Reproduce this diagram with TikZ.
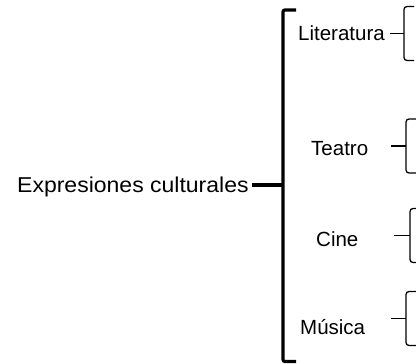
\documentclass[tikz,border=0pt]{standalone}
\usepackage{fontspec}
\setmainfont{Liberation Sans}
\newfontfamily\widefnt[FakeStretch=1.07]{Liberation Sans}
\begin{document}
\begin{tikzpicture}[x=1pt,y=-1pt,
  lbl/.style={anchor=base west,inner sep=0pt,font=\fontsize{20.5}{24}\selectfont},
  mainlbl/.style={anchor=base west,inner sep=0pt,font=\widefnt\fontsize{21.5}{26}\selectfont},
  big/.style={line width=3.2pt},
  thinline/.style={line width=1.3pt},
  sbrace/.pic={\draw[thinline,rounded corners=3pt] (10,-27) -- (0,-27) -- (0,27) -- (10,27);}
]
\useasboundingbox (0,0) rectangle (416,364);
% main label and bracket
\node[mainlbl] (main) at (17,192.7) {Expresiones culturales};
\coordinate (btop) at (296,10);
\coordinate (bbot) at (296,361.5);
\coordinate (junc) at (283,185);
\draw[big,rounded corners=2pt] (btop) -- (283,10) -- (283,361.5) -- (bbot);
\draw[big] ([xshift=3pt]main.east |- junc) -- (junc);
% sub labels
\node[lbl] (lit) at (298,40) {Literatura};
\node[lbl] (tea) at (311,155) {Teatro};
\node[lbl] (cin) at (316,246.5) {Cine};
\node[lbl] (mus) at (300,334) {Música};
% braces
\path (404,33.5) pic {sbrace};
\path (406,146) pic {sbrace};
\path (410,235.5) pic {sbrace};
\path (406,318.5) pic {sbrace};
\coordinate (litb) at (404,33.5);
\coordinate (teab) at (406,146);
\coordinate (cinb) at (410,235.5);
\coordinate (musb) at (406,318.5);
\coordinate (teas) at (391,146);
\coordinate (cins) at (394,235.5);
\coordinate (muss) at (391,318.5);
\draw[thinline] ([xshift=5pt]lit.east |- litb) -- (litb);
\draw[thinline] (teas) -- (teab);
\draw[thinline] (cins) -- (cinb);
\draw[thinline] (muss) -- (musb);
\end{tikzpicture}
\end{document}
